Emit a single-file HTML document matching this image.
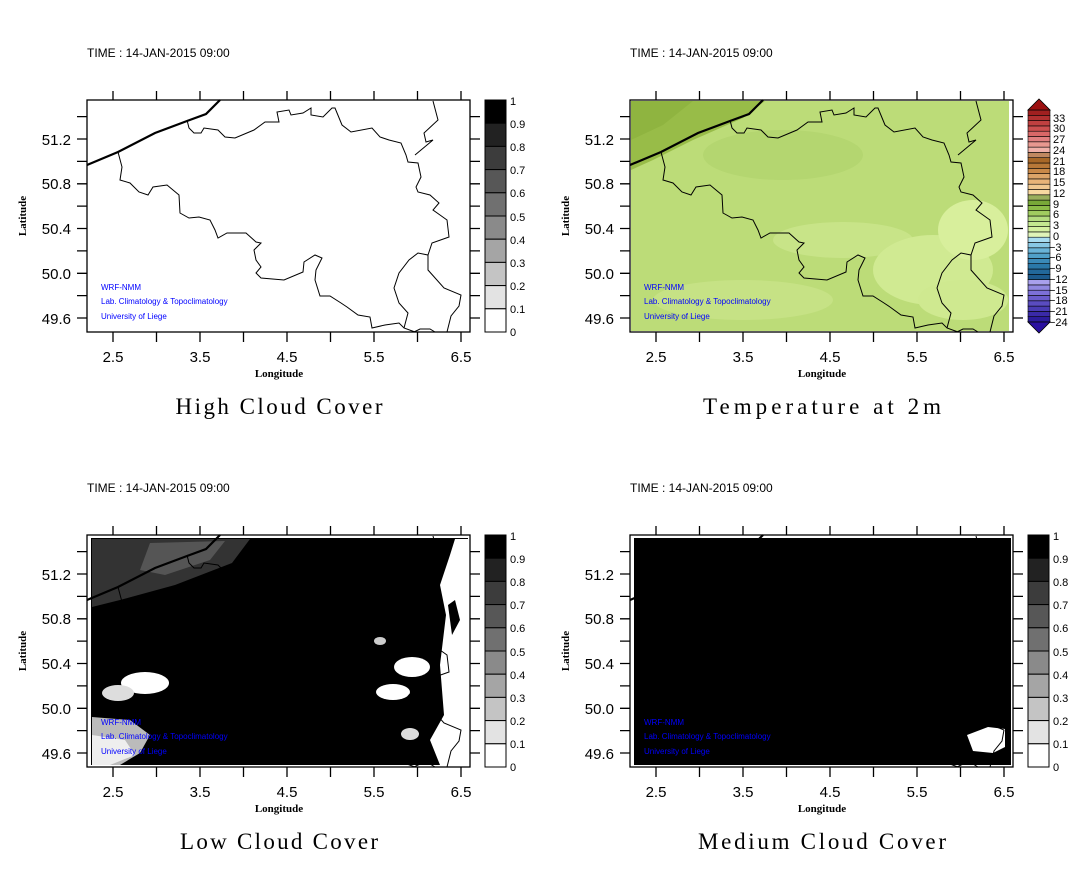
<!DOCTYPE html>
<html><head><meta charset="utf-8"><style>
html,body{margin:0;padding:0;background:#fff;}
svg{display:block;}
.tk{font-family:"Liberation Sans",sans-serif;font-size:15px;fill:#000;}
.cb{font-family:"Liberation Sans",sans-serif;font-size:11px;fill:#000;}
.tm{font-family:"Liberation Sans",sans-serif;font-size:12px;fill:#000;}
.ax{font-family:"Liberation Serif",serif;font-size:11px;font-weight:bold;fill:#000;}
.ti{font-family:"Liberation Serif",serif;font-size:23px;fill:#000;}
.bl{font-family:"Liberation Sans",sans-serif;font-size:8px;fill:#0000ff;}
</style></head><body>
<svg width="1087" height="869" viewBox="0 0 1087 869" xmlns="http://www.w3.org/2000/svg">
<defs>
<g id="border" fill="none" stroke="#000" stroke-width="1">
<path d="M187,120 L189,128 194,133 201,133 204,128 218,130 225,137 235,138 254,130 265,122 279,122 277,112 289,110 291,115 303,113 311,108 311,115 323,117 332,108 335,108 342,125 351,132 372,128 380,137 389,140 401,143 406,155 408,162 418,163 421,177 416,187 418,192 430,195 439,203 433,210 440,215 447,220 449,237 432,243 428,255 418,253 409,260 399,273 394,288 399,303 408,313 404,328"/>
<path d="M118,152 L122,167 120,180 130,183 139,192 148,195 153,187 167,185 179,195 180,213 189,218 199,217 210,220 215,230 218,238 227,233 246,233 256,242 261,243 254,250 256,260 261,267 256,273 261,278 284,280 303,272 304,262 315,255 322,258 316,270 315,280 320,296 330,296 341,303 347,307 358,315 370,317 372,328 385,325 399,323 404,328 415,332"/>
<path d="M433,101 L438,120 424,133 426,142 433,140 415,155"/>
<path d="M428,255 L428,270 444,288 461,295 459,306 451,316 447,332"/>
<path d="M414,332 L420,329 430,329 435,332"/>
</g>
<path id="coast" d="M87,165 L118,152 155,133 187,121 206,114 220,100" fill="none" stroke="#000" stroke-width="2.2"/>
<path id="ticks" fill="none" stroke="#000" stroke-width="1.3" d="M77,116.6H87M77,139H87M77,161.4H87M77,183.8H87M77,206.1H87M77,228.5H87M77,250.9H87M77,273.3H87M77,295.6H87M77,318H87M470,116.6H480M470,139H480M470,161.4H480M470,183.8H480M470,206.1H480M470,228.5H480M470,250.9H480M470,273.3H480M470,295.6H480M470,318H480M113,91V100M156.5,91V100M200,91V100M243.5,91V100M287,91V100M330.5,91V100M374,91V100M417.5,91V100M461,91V100M113,332V342M156.5,332V342M200,332V342M243.5,332V342M287,332V342M330.5,332V342M374,332V342M417.5,332V342M461,332V342"/>
<g id="graybar" stroke="#000" stroke-width="1">
<rect x="485" y="100" width="21" height="23.2" fill="#000"/>
<rect x="485" y="123.2" width="21" height="23.2" fill="#222"/>
<rect x="485" y="146.4" width="21" height="23.2" fill="#3c3c3c"/>
<rect x="485" y="169.6" width="21" height="23.2" fill="#575757"/>
<rect x="485" y="192.8" width="21" height="23.2" fill="#707070"/>
<rect x="485" y="216" width="21" height="23.2" fill="#8a8a8a"/>
<rect x="485" y="239.2" width="21" height="23.2" fill="#a5a5a5"/>
<rect x="485" y="262.4" width="21" height="23.2" fill="#c4c4c4"/>
<rect x="485" y="285.6" width="21" height="23.2" fill="#e3e3e3"/>
<rect x="485" y="308.8" width="21" height="23.2" fill="#fff"/>
</g>
</defs>

<g>
<rect x="87" y="100" width="383" height="232" fill="#fff" stroke="#000" stroke-width="1.3"/>
<use href="#border"/><use href="#coast"/><use href="#ticks"/><use href="#graybar"/>
</g>

<g transform="translate(543,0)">
<rect x="88" y="101" width="378" height="230" fill="#bcdc78"/>
<path d="M88,101 L222,101 200,118 150,140 110,160 88,170Z" fill="#98bc48"/>
<path d="M88,101 L150,101 120,125 88,140Z" fill="#8fb440"/>
<ellipse cx="240" cy="155" rx="80" ry="25" fill="#b4d670"/>
<ellipse cx="300" cy="240" rx="70" ry="18" fill="#c8e488"/>
<ellipse cx="390" cy="270" rx="60" ry="35" fill="#d0ea92"/>
<ellipse cx="430" cy="230" rx="35" ry="30" fill="#d8ef9c"/>
<ellipse cx="420" cy="300" rx="45" ry="20" fill="#cfe990"/>
<ellipse cx="200" cy="300" rx="90" ry="20" fill="#c6e285"/>
<rect x="87" y="100" width="383" height="232" fill="none" stroke="#000" stroke-width="1.3"/>
<use href="#border"/><use href="#coast"/><use href="#ticks"/>
</g>
<g id="tempbar" stroke="#000" stroke-width="0.6"></g>
<polygon points="1028,110 1050,110 1039,99" fill="#9c1010" stroke="#000" stroke-width="0.8"/>
<polygon points="1028,322 1050,322 1039,333" fill="#2a10a0" stroke="#000" stroke-width="0.8"/>

<g transform="translate(0,435)">
<rect x="87" y="100" width="383" height="232" fill="#fff"/>
<rect x="91" y="103" width="377" height="227" fill="#000"/>
<path d="M92,104 L250,104 232,128 175,150 120,165 92,172Z" fill="#333"/>
<path d="M150,108 L225,106 210,125 165,140 140,135Z" fill="#555"/>
<ellipse cx="145" cy="248" rx="24" ry="11" fill="#fff"/>
<ellipse cx="118" cy="258" rx="16" ry="8" fill="#ddd"/>
<path d="M92,282 L130,285 150,300 140,318 120,330 92,330Z" fill="#bbb"/>
<path d="M92,300 L125,305 135,320 110,330 92,330Z" fill="#eee"/>
<path d="M455,104 L468,104 468,330 440,330 430,305 444,280 440,230 446,180 440,150 450,120Z" fill="#fff"/>
<path d="M448,170 L455,165 460,185 452,200Z" fill="#000"/>
<ellipse cx="412" cy="232" rx="18" ry="10" fill="#fff"/>
<ellipse cx="393" cy="257" rx="17" ry="8" fill="#fff"/>
<ellipse cx="410" cy="299" rx="9" ry="6" fill="#ddd"/>
<ellipse cx="380" cy="206" rx="6" ry="4" fill="#ccc"/>
<rect x="87" y="100" width="383" height="232" fill="none" stroke="#000" stroke-width="1.3"/>
<use href="#border"/><use href="#coast"/><use href="#ticks"/><use href="#graybar"/>
</g>

<g transform="translate(543,435)">
<rect x="87" y="100" width="383" height="232" fill="#fff"/>
<rect x="91" y="103" width="377" height="227" fill="#000"/>
<path d="M424,300 L445,292 462,294 462,312 450,318 430,316Z" fill="#fff"/>
<rect x="87" y="100" width="383" height="232" fill="none" stroke="#000" stroke-width="1.3"/>
<use href="#border"/><use href="#coast"/><use href="#ticks"/><use href="#graybar"/>
</g>

<text class="tm" x="87" y="57">TIME : 14-JAN-2015 09:00</text>
<g class="tk" text-anchor="end"><text x="71" y="145">51.2</text><text x="71" y="189">50.8</text><text x="71" y="234">50.4</text><text x="71" y="279">50.0</text><text x="71" y="324">49.6</text></g>
<g class="tk" text-anchor="middle"><text x="113" y="362">2.5</text><text x="200" y="362">3.5</text><text x="287" y="362">4.5</text><text x="374" y="362">5.5</text><text x="461" y="362">6.5</text></g>
<text class="ax" x="279" y="377" text-anchor="middle">Longitude</text>
<text class="ax" transform="translate(26,216) rotate(-90)" text-anchor="middle">Latitude</text>
<g class="cb"><text x="510" y="105">1</text><text x="510" y="128">0.9</text><text x="510" y="151">0.8</text><text x="510" y="174">0.7</text><text x="510" y="197">0.6</text><text x="510" y="221">0.5</text><text x="510" y="244">0.4</text><text x="510" y="267">0.3</text><text x="510" y="290">0.2</text><text x="510" y="313">0.1</text><text x="510" y="336">0</text></g>
<g class="bl"><text x="101" y="290">WRF-NMM</text><text x="101" y="304">Lab. Climatology &amp; Topoclimatology</text><text x="101" y="319">University of Liege</text></g>
<text class="ti" x="279" y="414" text-anchor="middle" textLength="207" lengthAdjust="spacing">High Cloud Cover</text>

<text class="tm" x="630" y="57">TIME : 14-JAN-2015 09:00</text>
<g class="tk" text-anchor="end"><text x="614" y="145">51.2</text><text x="614" y="189">50.8</text><text x="614" y="234">50.4</text><text x="614" y="279">50.0</text><text x="614" y="324">49.6</text></g>
<g class="tk" text-anchor="middle"><text x="656" y="362">2.5</text><text x="743" y="362">3.5</text><text x="830" y="362">4.5</text><text x="917" y="362">5.5</text><text x="1004" y="362">6.5</text></g>
<text class="ax" x="822" y="377" text-anchor="middle">Longitude</text>
<text class="ax" transform="translate(569,216) rotate(-90)" text-anchor="middle">Latitude</text>
<g class="cb"><text x="1053" y="122">33</text><text x="1053" y="132">30</text><text x="1053" y="143">27</text><text x="1053" y="154">24</text><text x="1053" y="165">21</text><text x="1053" y="175">18</text><text x="1053" y="186">15</text><text x="1053" y="197">12</text><text x="1053" y="208">9</text><text x="1053" y="218">6</text><text x="1053" y="229">3</text><text x="1053" y="240">0</text><text x="1049" y="251">−3</text><text x="1049" y="261">−6</text><text x="1049" y="272">−9</text><text x="1049" y="283">−12</text><text x="1049" y="294">−15</text><text x="1049" y="304">−18</text><text x="1049" y="315">−21</text><text x="1049" y="326">−24</text></g>
<g class="bl"><text x="644" y="290">WRF-NMM</text><text x="644" y="304">Lab. Climatology &amp; Topoclimatology</text><text x="644" y="319">University of Liege</text></g>
<text class="ti" x="822" y="414" text-anchor="middle" textLength="238" lengthAdjust="spacing">Temperature at 2m</text>

<text class="tm" x="87" y="492">TIME : 14-JAN-2015 09:00</text>
<g class="tk" text-anchor="end"><text x="71" y="580">51.2</text><text x="71" y="624">50.8</text><text x="71" y="669">50.4</text><text x="71" y="714">50.0</text><text x="71" y="759">49.6</text></g>
<g class="tk" text-anchor="middle"><text x="113" y="797">2.5</text><text x="200" y="797">3.5</text><text x="287" y="797">4.5</text><text x="374" y="797">5.5</text><text x="461" y="797">6.5</text></g>
<text class="ax" x="279" y="812" text-anchor="middle">Longitude</text>
<text class="ax" transform="translate(26,651) rotate(-90)" text-anchor="middle">Latitude</text>
<g class="cb"><text x="510" y="540">1</text><text x="510" y="563">0.9</text><text x="510" y="586">0.8</text><text x="510" y="609">0.7</text><text x="510" y="632">0.6</text><text x="510" y="656">0.5</text><text x="510" y="679">0.4</text><text x="510" y="702">0.3</text><text x="510" y="725">0.2</text><text x="510" y="748">0.1</text><text x="510" y="771">0</text></g>
<g class="bl"><text x="101" y="725">WRF-NMM</text><text x="101" y="739">Lab. Climatology &amp; Topoclimatology</text><text x="101" y="754">University of Liege</text></g>
<text class="ti" x="279" y="849" text-anchor="middle" textLength="198" lengthAdjust="spacing">Low Cloud Cover</text>

<text class="tm" x="630" y="492">TIME : 14-JAN-2015 09:00</text>
<g class="tk" text-anchor="end"><text x="614" y="580">51.2</text><text x="614" y="624">50.8</text><text x="614" y="669">50.4</text><text x="614" y="714">50.0</text><text x="614" y="759">49.6</text></g>
<g class="tk" text-anchor="middle"><text x="656" y="797">2.5</text><text x="743" y="797">3.5</text><text x="830" y="797">4.5</text><text x="917" y="797">5.5</text><text x="1004" y="797">6.5</text></g>
<text class="ax" x="822" y="812" text-anchor="middle">Longitude</text>
<text class="ax" transform="translate(569,651) rotate(-90)" text-anchor="middle">Latitude</text>
<g class="cb"><text x="1053" y="540">1</text><text x="1053" y="563">0.9</text><text x="1053" y="586">0.8</text><text x="1053" y="609">0.7</text><text x="1053" y="632">0.6</text><text x="1053" y="656">0.5</text><text x="1053" y="679">0.4</text><text x="1053" y="702">0.3</text><text x="1053" y="725">0.2</text><text x="1053" y="748">0.1</text><text x="1053" y="771">0</text></g>
<g class="bl"><text x="644" y="725">WRF-NMM</text><text x="644" y="739">Lab. Climatology &amp; Topoclimatology</text><text x="644" y="754">University of Liege</text></g>
<text class="ti" x="822" y="849" text-anchor="middle" textLength="248" lengthAdjust="spacing">Medium Cloud Cover</text>
</svg>
<script>
(function(){
var c=["#2c1c9c","#3a2aa8","#4a3cb4","#5a4cc0","#6a5ccc","#7c70d8","#9088e0","#a8a0ec","#1c5a8c","#22689a","#2a78a8","#3a8ab8","#50a0c8","#6ab4d8","#88c8e4","#a8dcf0","#e0f4b8","#d4f0a0","#c4e890","#b4dc80","#a0cc60","#8cbc48","#78a838","#9aae5c","#f8d8a0","#f0c890","#e8b478","#dca468","#c88848","#b87838","#a86828","#c08860","#f0b0a8","#e89890","#e08080","#d86868","#cc5050","#c04040","#b03030","#a02020"];
var g=document.getElementById("tempbar"),ns="http://www.w3.org/2000/svg",h=(322-110)/40;
for(var i=0;i<40;i++){var r=document.createElementNS(ns,"rect");r.setAttribute("x",1028);r.setAttribute("y",322-(i+1)*h);r.setAttribute("width",22);r.setAttribute("height",h);r.setAttribute("fill",c[i]);g.appendChild(r);}
})();
</script>
</body></html>
